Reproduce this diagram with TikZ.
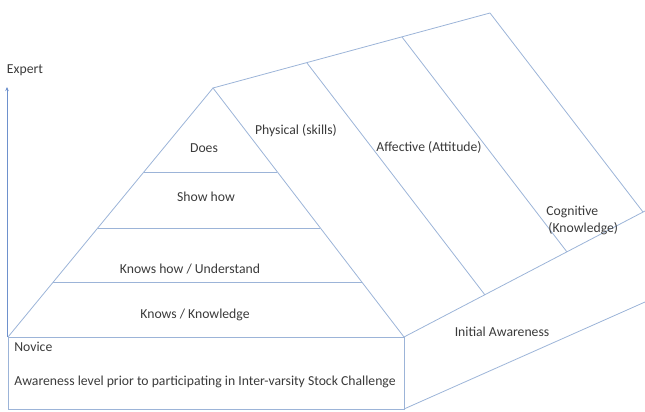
\documentclass[tikz,border=0pt]{standalone}
\usepackage{fontspec}
\setmainfont{Carlito}
\usepackage{xcolor}
\usetikzlibrary{arrows.meta}

\definecolor{edgeblue}{RGB}{156,180,216}
\definecolor{axisblue}{RGB}{110,145,205}
\definecolor{labelgrey}{RGB}{58,58,58}

\begin{document}
\begin{tikzpicture}[x=1pt, y=-1pt, line width=.8pt,
  lbl/.style={text=labelgrey, font=\fontsize{13.7}{17}\selectfont, inner sep=0pt}]

\useasboundingbox (0,0) rectangle (645,412);
\clip (0,0) rectangle (645,412); % limit img size

% slab under the pyramid
	\draw[edgeblue] (8,337) rectangle (404,409);
	\draw[edgeblue] (404,409) to (645,302);
	\draw[edgeblue] (404,337) to (645,211);

% pyramid
	\draw[edgeblue] (8,337) to (213,88) to (404,337);
	\draw[edgeblue] (143.8,172) to (277.4,172);
	\draw[edgeblue] (97.7,228) to (320.4,228);
	\draw[edgeblue] (53.3,282) to (361.8,282);

% roof and domain strips
	\draw[edgeblue] (213,88) to (490,13);
	\draw[edgeblue] (307,63) to (485,295);
	\draw[edgeblue] (402,37) to (567,252);
	\draw[edgeblue] (490,13) to (643,212);

% novice to expert axis
	\coordinate (novice corner) at (7,337);
	\coordinate (expert tip) at (7,87);
	\draw[axisblue, -{Stealth[length=4pt, width=3.5pt]}] (novice corner) to (expert tip);

% level names
	\node[lbl] (expert) at (25,70) {Expert};
	\node[lbl] (does) at (204,148) {Does};
	\node[lbl] (showhow) at (206,197) {Show how};
	\node[lbl] (knowshow) at (190,269) {Knows how / Understand};
	\node[lbl] (knows) at (195,315) {Knows / Knowledge};
	\node[lbl, anchor=west] (novice) at (14,347) {Novice};
	\node[lbl, anchor=west] (prior) at (14,382) {Awareness level prior to participating in Inter-varsity Stock Challenge};

% domain names
	\node[lbl] (physical) at (296,131) {Physical (skills)};
	\node[lbl] (affective) at (429,147) {Affective (Attitude)};
	\node[lbl, align=left, anchor=north west] (cognitive) at (546,206) {Cognitive\\\hspace{2pt}(Knowledge)};
	\node[lbl] (initial) at (502,332) {Initial Awareness};

\end{tikzpicture}
\end{document}
